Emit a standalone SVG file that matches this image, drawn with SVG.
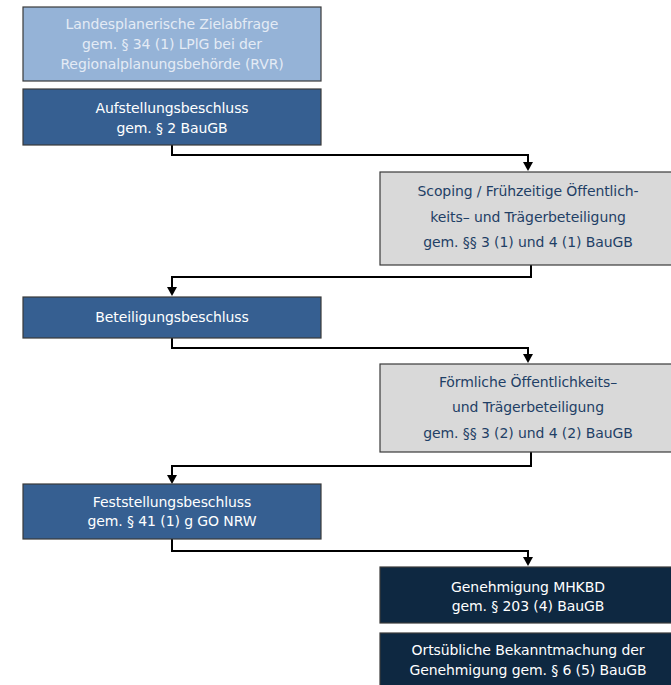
<svg xmlns="http://www.w3.org/2000/svg" width="671" height="685" viewBox="0 0 671 685">
<defs>
<style>
text{font-family:"DejaVu Sans","Liberation Sans",sans-serif;font-size:14px;text-anchor:middle;letter-spacing:-0.1px}
.b1{fill:#95B3D7;stroke:#3a3a3a;stroke-width:1.2}
.b2{fill:#365F91;stroke:#3a3a3a;stroke-width:1.2}
.b3{fill:#D9D9D9;stroke:#3a3a3a;stroke-width:1.2}
.b4{fill:#0E2841;stroke:#3a3a3a;stroke-width:1.2}
.t1{fill:#E4EBF5}
.t2{fill:#FFFFFF}
.t3{fill:#1F3F66}
.c{fill:none;stroke:#000;stroke-width:2}
</style>
</defs>
<rect width="671" height="685" fill="#fff"/>
<g id="connectors">
<path class="c" d="M172,145 V155 H528 V163"/>
<path class="c" d="M531,265 V277 H172 V288"/>
<path class="c" d="M172,338 V348 H528 V355"/>
<path class="c" d="M531,452 V466 H172 V476"/>
<path class="c" d="M172,539 V551 H528 V558"/>
<path d="M523,162 L533,162 L528,171 Z" fill="#000"/>
<path d="M167,287 L177,287 L172,296 Z" fill="#000"/>
<path d="M523,354 L533,354 L528,363 Z" fill="#000"/>
<path d="M167,475 L177,475 L172,484 Z" fill="#000"/>
<path d="M523,557 L533,557 L528,566 Z" fill="#000"/>
</g>
<g id="n1">
<rect class="b1" x="23" y="7" width="298" height="74"/>
<text class="t1" x="172" y="29">Landesplanerische Zielabfrage</text>
<text class="t1" x="172" y="49">gem. § 34 (1) LPlG bei der</text>
<text class="t1" x="172" y="69">Regionalplanungsbehörde (RVR)</text>
</g>
<g id="n2">
<rect class="b2" x="23" y="89" width="298" height="56"/>
<text class="t2" x="172" y="113">Aufstellungsbeschluss</text>
<text class="t2" x="172" y="133">gem. § 2 BauGB</text>
</g>
<g id="n3">
<rect class="b3" x="380" y="172" width="296" height="93"/>
<text class="t3" x="528" y="196">Scoping / Frühzeitige Öffentlich-</text>
<text class="t3" x="528" y="222">keits– und Trägerbeteiligung</text>
<text class="t3" x="528" y="247">gem. §§ 3 (1) und 4 (1) BauGB</text>
</g>
<g id="n4">
<rect class="b2" x="23" y="297" width="298" height="41"/>
<text class="t2" x="172" y="322">Beteiligungsbeschluss</text>
</g>
<g id="n5">
<rect class="b3" x="380" y="364" width="296" height="88"/>
<text class="t3" x="528" y="387">Förmliche Öffentlichkeits–</text>
<text class="t3" x="528" y="412">und Trägerbeteiligung</text>
<text class="t3" x="528" y="438">gem. §§ 3 (2) und 4 (2) BauGB</text>
</g>
<g id="n6">
<rect class="b2" x="23" y="484" width="298" height="55"/>
<text class="t2" x="172" y="507">Feststellungsbeschluss</text>
<text class="t2" x="172" y="526">gem. § 41 (1) g GO NRW</text>
</g>
<g id="n7">
<rect class="b4" x="380" y="567" width="296" height="56"/>
<text class="t2" x="528" y="592">Genehmigung MHKBD</text>
<text class="t2" x="528" y="611">gem. § 203 (4) BauGB</text>
</g>
<g id="n8">
<rect class="b4" x="380" y="633" width="296" height="60"/>
<text class="t2" x="528" y="655">Ortsübliche Bekanntmachung der</text>
<text class="t2" x="528" y="675">Genehmigung gem. § 6 (5) BauGB</text>
</g>
</svg>
